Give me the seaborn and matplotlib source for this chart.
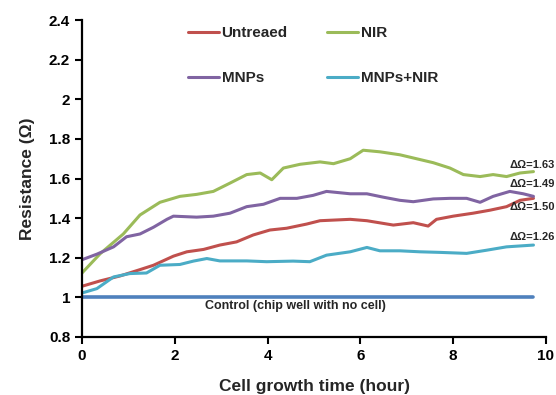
import numpy as np
import pandas as pd
import seaborn as sns
import matplotlib.pyplot as plt

# values (hours, ohm)
t_nir = [0, 0.39, 0.89, 1.25, 1.68, 2.11, 2.47, 2.83, 3.19, 3.55, 3.84, 4.09, 4.34, 4.70,
         5.13, 5.42, 5.78, 6.06, 6.42, 6.85, 7.21, 7.57, 7.93, 8.22, 8.58, 8.86, 9.15, 9.44, 9.73]
r_nir = [1.123, 1.22, 1.32, 1.416, 1.48, 1.51, 1.52, 1.535, 1.577, 1.62, 1.628, 1.594, 1.653, 1.672,
         1.684, 1.675, 1.70, 1.743, 1.735, 1.72, 1.70, 1.68, 1.653, 1.62, 1.61, 1.62, 1.61, 1.628, 1.635]

t_mnp = [0, 0.32, 0.68, 0.96, 1.25, 1.54, 1.83, 1.97, 2.47, 2.83, 3.19, 3.55, 3.91, 4.27, 4.63,
         4.98, 5.27, 5.78, 6.14, 6.49, 6.85, 7.14, 7.57, 7.93, 8.29, 8.58, 8.86, 9.22, 9.51, 9.73]
r_mnp = [1.19, 1.218, 1.255, 1.306, 1.32, 1.354, 1.394, 1.41, 1.405, 1.41, 1.425, 1.458, 1.47, 1.50, 1.50,
         1.515, 1.535, 1.523, 1.523, 1.506, 1.49, 1.483, 1.497, 1.50, 1.50, 1.48, 1.51, 1.535, 1.523, 1.51]

t_unt = [0, 0.39, 0.82, 1.25, 1.54, 1.97, 2.26, 2.62, 2.97, 3.33, 3.69, 4.05, 4.41, 4.84,
         5.13, 5.78, 6.14, 6.71, 7.14, 7.46, 7.64, 8.0, 8.43, 8.79, 9.15, 9.44, 9.73]
r_unt = [1.056, 1.083, 1.108, 1.14, 1.162, 1.208, 1.23, 1.242, 1.264, 1.28, 1.315, 1.34, 1.349, 1.37,
         1.387, 1.394, 1.387, 1.365, 1.377, 1.36, 1.394, 1.41, 1.425, 1.44, 1.458, 1.49, 1.50]

t_mnir = [0, 0.32, 0.68, 1.03, 1.39, 1.68, 2.11, 2.40, 2.69, 2.97, 3.55, 3.98, 4.55, 4.91,
          5.27, 5.78, 6.14, 6.42, 6.85, 7.28, 7.72, 8.29, 8.72, 9.15, 9.73]
r_mnir = [1.022, 1.044, 1.103, 1.12, 1.123, 1.162, 1.166, 1.183, 1.196, 1.184, 1.184, 1.18, 1.183, 1.18,
          1.213, 1.23, 1.252, 1.235, 1.235, 1.23, 1.227, 1.222, 1.238, 1.255, 1.264]

t_ctrl = [0, 9.73]
r_ctrl = [1.0, 1.0]

labels = ["Untreaed", "NIR", "MNPs", "MNPs+NIR"]
colors = ["#C0504D", "#9BBB59", "#8064A2", "#4BACC6"]
delta_text = ["\u0394\u03a9=1.63", "\u0394\u03a9=1.49", "\u0394\u03a9=1.50", "\u0394\u03a9=1.26"]
delta_y = [1.67, 1.574, 1.457, 1.305]

df = pd.concat([
    pd.DataFrame({"time": t_unt, "res": r_unt, "group": "Untreaed"}),
    pd.DataFrame({"time": t_nir, "res": r_nir, "group": "NIR"}),
    pd.DataFrame({"time": t_mnp, "res": r_mnp, "group": "MNPs"}),
    pd.DataFrame({"time": t_mnir, "res": r_mnir, "group": "MNPs+NIR"}),
], ignore_index=True)

sns.set_style("ticks")
plt.rcParams["font.family"] = ["Liberation Sans", "DejaVu Sans"]
plt.rcParams["font.weight"] = "bold"

fig = plt.figure(figsize=(5.56, 3.95), dpi=100)
ax = fig.add_axes([0.1475, 0.147, 0.8345, 0.802])

sns.lineplot(data=pd.DataFrame({"time": t_ctrl, "res": r_ctrl}), x="time", y="res",
             color="#4F81BD", lw=2.6, ax=ax, legend=False)
sns.lineplot(data=df, x="time", y="res", hue="group", hue_order=labels,
             palette=dict(zip(labels, colors)), lw=2.2, estimator=None, sort=False, ax=ax)

ax.set_xlim(0, 10)
ax.set_ylim(0.8, 2.4)
ax.set_xticks([0, 2, 4, 6, 8, 10])
ax.set_yticks([0.8, 1, 1.2, 1.4, 1.6, 1.8, 2, 2.2, 2.4])
ax.set_yticklabels(["0.8", "1", "1.2", "1.4", "1.6", "1.8", "2", "2.2", "2.4"])
ax.tick_params(labelsize=11, width=1.5, length=5, colors="black")
for lab in ax.get_xticklabels() + ax.get_yticklabels():
    lab.set_fontweight("bold")
for s in ["left", "bottom"]:
    ax.spines[s].set_linewidth(1.6)
    ax.spines[s].set_color("black")
sns.despine(ax=ax)

ax.set_xlabel("Cell growth time (hour)", fontsize=12.5, fontweight="bold", labelpad=12)
ax.set_ylabel("Resistance (\u03a9)", fontsize=12.5, fontweight="bold", labelpad=10)

for txt, yy in zip(delta_text, delta_y):
    ax.text(9.22, yy, txt, fontsize=8, fontweight="bold", va="center", ha="left")
ax.text(4.6, 0.955, "Control (chip well with no cell)", fontsize=9, fontweight="bold",
        ha="center", va="center")

# legend fills column by column: Untreaed/MNPs on the left, NIR/MNPs+NIR on the right
handles, names = ax.get_legend_handles_labels()
lookup = dict(zip(names, handles))
order = ["Untreaed", "MNPs", "NIR", "MNPs+NIR"]
ax.legend(handles=[lookup[n] for n in order], labels=order, ncol=2, frameon=False,
          loc="upper left", bbox_to_anchor=(188 / 556, 1 - 26 / 395), bbox_transform=fig.transFigure,
          borderpad=0, borderaxespad=0, handlelength=2.0, handletextpad=0.2,
          columnspacing=2.6, labelspacing=2.05, prop={"size": 11, "weight": "bold"})

fig.savefig("out.png", dpi=100)
